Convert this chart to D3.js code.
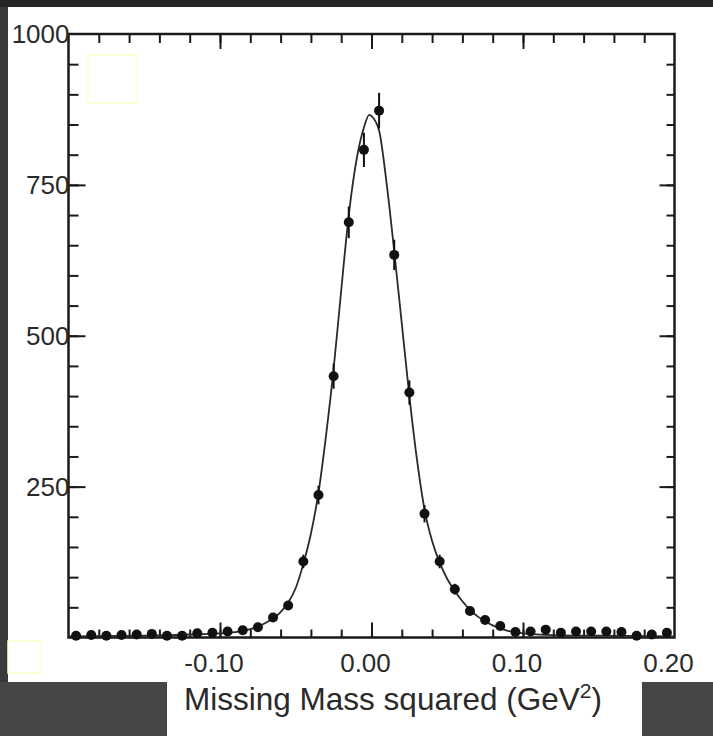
<!DOCTYPE html>
<html>
<head>
<meta charset="utf-8">
<script src="https://cdn.jsdelivr.net/npm/d3@7"></script>
<style>
  html, body { margin: 0; padding: 0; background: #3a3a3a; }
  svg { display: block; font-family: "Liberation Sans", Arial, sans-serif; }
</style>
</head>
<body>
<div id="chart"></div>
<script>
// bin centres (GeV^2) and counts
const binCenters = [-0.195, -0.185, -0.175, -0.165, -0.155, -0.145, -0.135, -0.125, -0.115, -0.105,
                    -0.095, -0.085, -0.075, -0.065, -0.055, -0.045, -0.035, -0.025, -0.015, -0.005,
                     0.005,  0.015,  0.025,  0.035,  0.045,  0.055,  0.065,  0.075,  0.085,  0.095,
                     0.105,  0.115,  0.125,  0.135,  0.145,  0.155,  0.165,  0.175,  0.185,  0.195];
const counts = [3, 4, 3, 4, 5, 6, 3, 3, 7, 8,
                10, 12, 17, 33, 53, 126, 236, 433, 688, 808,
                873, 634, 406, 205, 126, 80, 44, 29, 19, 9,
                10, 13, 8, 10, 10, 10, 9, 3, 5, 8];

// fitted curve
const fitX = [-0.2, -0.15, -0.12, -0.1, -0.09, -0.08, -0.07, -0.06, -0.055, -0.05, -0.045, -0.04,
              -0.035, -0.03, -0.025, -0.02, -0.015, -0.01, -0.005, -0.0015, 0.0, 0.005, 0.01,
              0.015, 0.02, 0.025, 0.03, 0.035, 0.04, 0.045, 0.05, 0.055, 0.06, 0.065, 0.07,
              0.075, 0.08, 0.09, 0.1, 0.12, 0.15, 0.2];
const fitY = [2, 3, 5, 7, 9, 14, 24, 42, 58, 82, 122, 172,
              240, 335, 445, 575, 700, 790, 845, 866, 864, 840, 752,
              640, 520, 400, 295, 212, 160, 124, 97, 77, 60, 46, 35,
              27, 20, 11, 7, 4, 3, 2];

const xLabels = ["-0.10", "0.00", "0.10", "0.20"];
const yLabels = [250, 500, 750, 1000];
const xMinor = d3.range(-0.18, 0.2, 0.02);
const yMinor = d3.range(50, 1000, 50);

const W = 713, H = 736;
const svg = d3.select("#chart").append("svg")
    .attr("width", W).attr("height", H);

// page background: dark border and white sheet
svg.append("rect").attr("width", W).attr("height", H).attr("fill", "#3a3a3a");
svg.append("rect").attr("width", W).attr("height", 7).attr("fill", "#252525");
svg.append("rect").attr("y", 682).attr("width", W).attr("height", H - 682).attr("fill", "#464646");
svg.append("rect").attr("x", 8).attr("y", 7).attr("width", W - 8).attr("height", 675).attr("fill", "#fff");
svg.append("rect").attr("x", 167).attr("y", 682).attr("width", 475).attr("height", H - 682).attr("fill", "#fff");

// faint yellow boxes
svg.append("rect").attr("x", 88).attr("y", 55).attr("width", 49).attr("height", 48)
    .attr("fill", "none").attr("stroke", "#ffffc8").attr("stroke-width", 1.5);
svg.append("rect").attr("x", 8).attr("y", 641).attr("width", 33).attr("height", 32)
    .attr("fill", "none").attr("stroke", "#ffffc8").attr("stroke-width", 1.5);

const x = d3.scaleLinear().domain([-0.2, 0.2]).range([68.5, 674.5]);
const y = d3.scaleLinear().domain([0, 1000]).range([637.5, 34]);

const axisColor = "#1a1a1a";
function styleTicks(g) {
    g.select(".domain").remove();
    g.selectAll("line").attr("stroke", axisColor).attr("stroke-width", 2);
}

// ticks on all four sides, pointing inward
const xMajor = [-0.1, 0, 0.1];
const yMajor = [250, 500, 750];
svg.append("g").attr("transform", "translate(0," + y(0) + ")")
    .call(d3.axisBottom(x).tickValues(xMinor).tickSize(-8).tickFormat("")).call(styleTicks);
svg.append("g").attr("transform", "translate(0," + y(0) + ")")
    .call(d3.axisBottom(x).tickValues(xMajor).tickSize(-15).tickFormat("")).call(styleTicks);
svg.append("g").attr("transform", "translate(0," + y(1000) + ")")
    .call(d3.axisTop(x).tickValues(xMinor).tickSize(-9).tickFormat("")).call(styleTicks);
svg.append("g").attr("transform", "translate(0," + y(1000) + ")")
    .call(d3.axisTop(x).tickValues(xMajor).tickSize(-15).tickFormat("")).call(styleTicks);
svg.append("g").attr("transform", "translate(" + x(-0.2) + ",0)")
    .call(d3.axisLeft(y).tickValues(yMinor).tickSize(-10).tickFormat("")).call(styleTicks);
svg.append("g").attr("transform", "translate(" + x(-0.2) + ",0)")
    .call(d3.axisLeft(y).tickValues(yMajor).tickSize(-17).tickFormat("")).call(styleTicks);
svg.append("g").attr("transform", "translate(" + x(0.2) + ",0)")
    .call(d3.axisRight(y).tickValues(yMinor).tickSize(-8).tickFormat("")).call(styleTicks);
svg.append("g").attr("transform", "translate(" + x(0.2) + ",0)")
    .call(d3.axisRight(y).tickValues(yMajor).tickSize(-15).tickFormat("")).call(styleTicks);

// frame
svg.append("rect")
    .attr("x", x(-0.2)).attr("y", y(1000))
    .attr("width", x(0.2) - x(-0.2)).attr("height", y(0) - y(1000))
    .attr("fill", "none").attr("stroke", axisColor).attr("stroke-width", 2.5);

// tick labels
svg.append("g").selectAll("text").data(xLabels).join("text")
    .attr("x", d => x(+d) - 6).attr("y", 672)
    .attr("text-anchor", "middle").attr("font-size", 26).attr("fill", "#2a2a2a")
    .text(d => d);
svg.append("g").selectAll("text").data(yLabels).join("text")
    .attr("x", x(-0.2) + 1).attr("y", d => y(d) + 9)
    .attr("text-anchor", "end").attr("font-size", 26).attr("fill", "#2a2a2a")
    .text(d => d);

// axis title
const title = svg.append("text")
    .attr("x", 393).attr("y", 710)
    .attr("text-anchor", "middle").attr("font-size", 31.5).attr("fill", "#2a2a2a");
title.append("tspan").text("Missing Mass squared (GeV");
title.append("tspan").attr("font-size", 21).attr("dy", -12).text("2");
title.append("tspan").attr("dy", 12).text(")");

// fit curve
const line = d3.line()
    .x((d, i) => x(fitX[i]))
    .y(d => y(d))
    .curve(d3.curveMonotoneX);
svg.append("path").datum(fitY)
    .attr("d", line)
    .attr("fill", "none").attr("stroke", "#2a2a2a").attr("stroke-width", 1.8);

// data points with statistical error bars
const pts = binCenters.map((c, i) => ({c: c, n: counts[i]}));
svg.append("g").selectAll("line").data(pts).join("line")
    .attr("x1", d => x(d.c)).attr("x2", d => x(d.c))
    .attr("y1", d => y(d.n - Math.sqrt(d.n))).attr("y2", d => y(d.n + Math.sqrt(d.n)))
    .attr("stroke", "#111").attr("stroke-width", 2);
svg.append("g").selectAll("circle").data(pts).join("circle")
    .attr("cx", d => x(d.c)).attr("cy", d => y(d.n))
    .attr("r", 5).attr("fill", "#111");
</script>
</body>
</html>
